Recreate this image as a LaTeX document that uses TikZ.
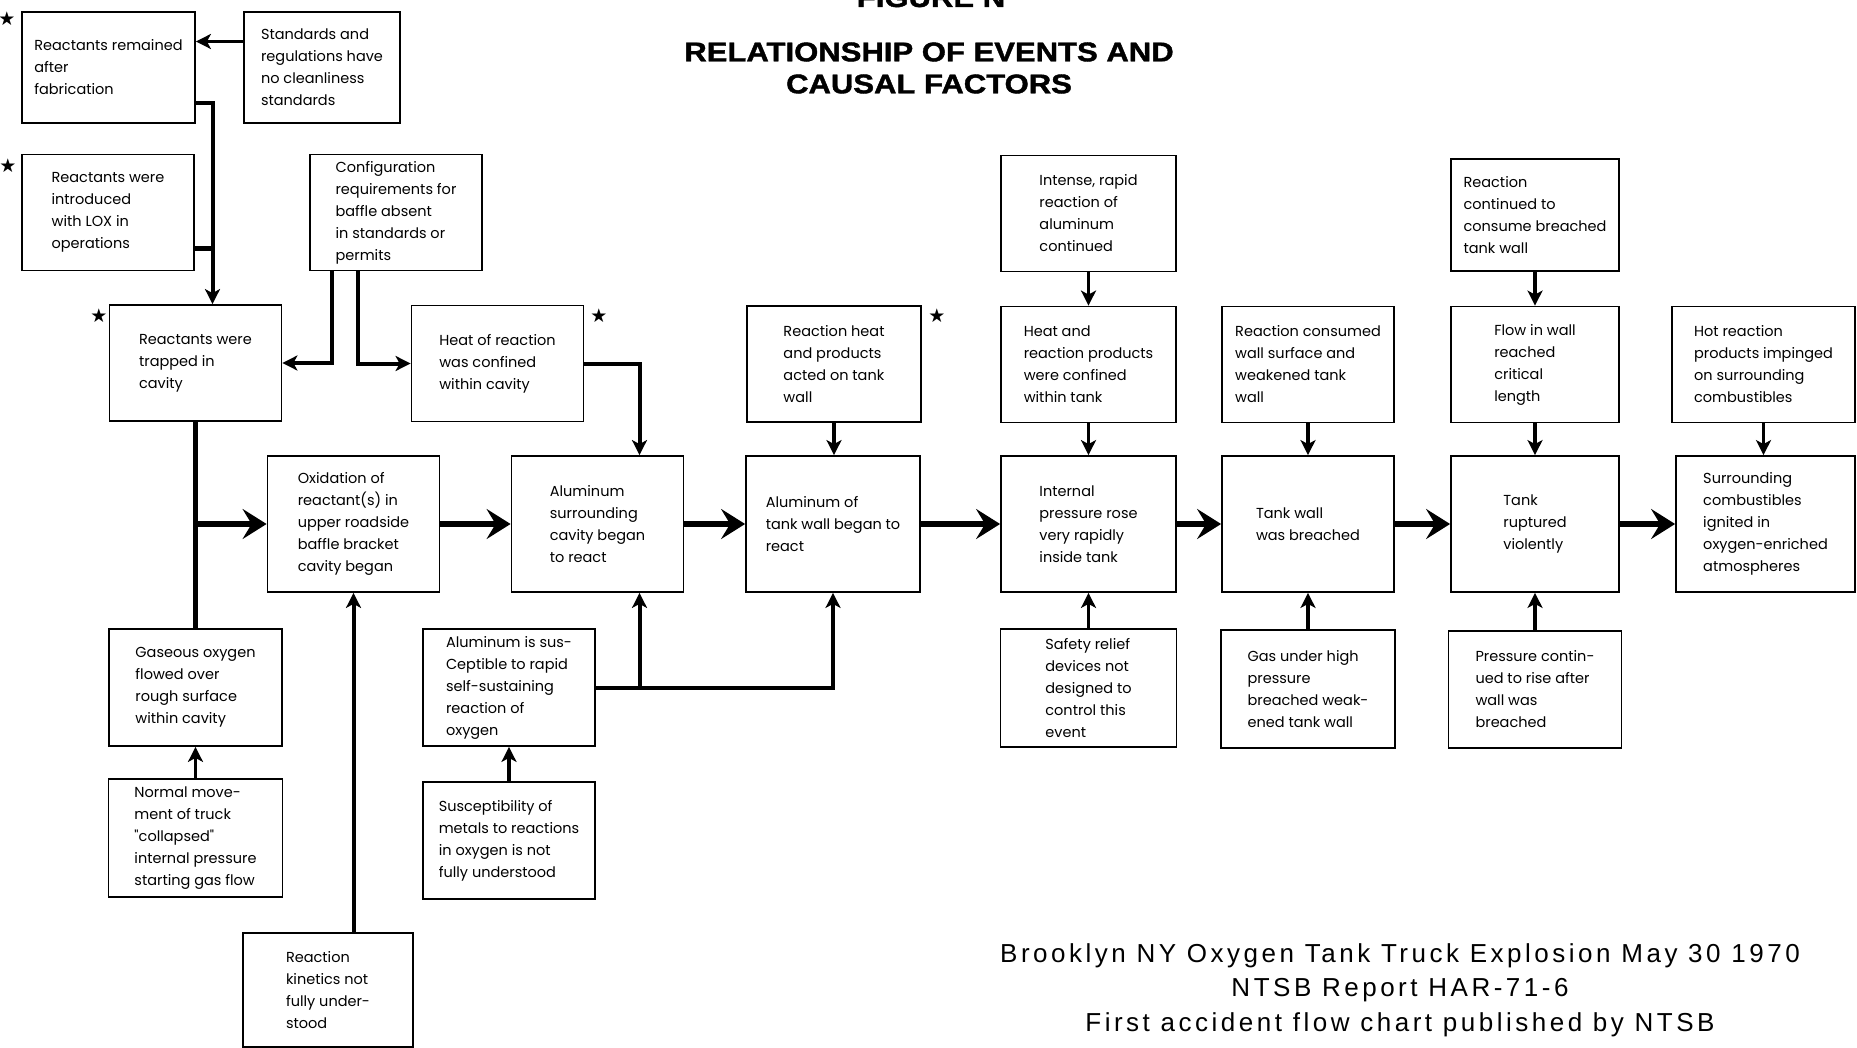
\documentclass[tikz,border=0pt]{standalone}
\usepackage{fontspec}
\usetikzlibrary{arrows.meta}
\newfontfamily\boxfont{Poppins}
\newfontfamily\titlefont[FakeStretch=1.15, FakeBold=1.5]{Liberation Sans}
\newfontfamily\capfont[LetterSpace=13.5]{Liberation Sans}
\newfontfamily\starfont{DejaVu Sans}

\begin{document}
\begin{tikzpicture}
    [
    x=1pt, y=-1pt,
    every node/.style={font=\boxfont\fontsize{14.5}{22}\selectfont},
    event/.style={rectangle, draw, line width=1.8pt, minimum width=172pt, minimum height=116pt, align=left, inner sep=2pt},
    tall/.style={event, minimum height=136pt},
    flow/.style={-{Stealth[length=15pt,width=15pt,inset=4pt]}, line width=4pt},
    bigflow/.style={-{Stealth[length=24pt,width=30pt,inset=9pt]}, line width=6pt},
    feed/.style={line width=4.5pt},
    starmark/.style={font=\starfont\fontsize{19}{19}\selectfont, inner sep=0pt}
    ]
    \useasboundingbox (0,0) rectangle (1857,1048);
    \clip (0,0) rectangle (1857,1048);

% Title
    \node[font=\titlefont\bfseries\fontsize{27}{32}\selectfont, anchor=base] (figure_no) at (931,7) {FIGURE N};
    \node[font=\titlefont\bfseries\fontsize{27}{32}\selectfont, align=center] (title) at (929,68) {RELATIONSHIP OF EVENTS AND\\CAUSAL FACTORS};

% Early causes
    \node[event, minimum width=173pt, minimum height=111pt] (remained) at (108.5,67.5) {Reactants remained\\after\\fabrication};
    \node[event, minimum width=156pt, minimum height=111pt] (standards) at (322,67.5) {Standards and\\regulations have\\no cleanliness\\standards};
    \node[event] (introduced) at (108,212.5) {Reactants were\\introduced\\with LOX in\\operations};
    \node[event] (config) at (396,212.5) {Configuration\\requirements for\\baffle absent\\in standards or\\permits};

% Upper row
    \node[event] (trapped) at (195.5,363) {Reactants were\\trapped in\\cavity};
    \node[event] (heat_cavity) at (497.5,363.5) {Heat of reaction\\was confined\\within cavity};
    \node[event, minimum width=174pt] (heat_wall) at (834,364) {Reaction heat\\and products\\acted on tank\\wall};
    \node[event, minimum width=175pt] (intense) at (1088.5,213.5) {Intense, rapid\\reaction of\\aluminum\\continued};
    \node[event, minimum width=175pt] (heat_tank) at (1088.5,364.5) {Heat and\\reaction products\\were confined\\within tank};
    \node[event] (consumed) at (1308,364.5) {Reaction consumed\\wall surface and\\weakened tank\\wall};
    \node[event, minimum width=168pt, minimum height=112pt] (continued) at (1535,215) {Reaction\\continued to\\consume breached\\tank wall};
    \node[event, minimum width=168pt] (flow_wall) at (1535,364.5) {Flow in wall\\reached\\critical\\length};
    \node[event, minimum width=183pt] (impinged) at (1763.5,364.5) {Hot reaction\\products impinged\\on surrounding\\combustibles};

% Main sequence
    \node[tall] (oxidation) at (353.5,524) {Oxidation of\\reactant(s) in\\upper roadside\\baffle bracket\\cavity began};
    \node[tall] (al_cavity) at (597.5,524) {Aluminum\\surrounding\\cavity began\\to react};
    \node[tall, minimum width=174pt] (al_wall) at (833,524) {Aluminum of\\tank wall began to\\react};
    \node[tall, minimum width=175pt] (pressure_rose) at (1088.5,524) {Internal\\pressure rose\\very rapidly\\inside tank};
    \node[tall] (breached) at (1308,524) {Tank wall\\was breached};
    \node[tall, minimum width=168pt] (ruptured) at (1535,524) {Tank\\ruptured\\violently};
    \node[tall, minimum width=179pt] (ignited) at (1765.5,524) {Surrounding\\combustibles\\ignited in\\oxygen-enriched\\atmospheres};

% Lower causes
    \node[event, minimum width=173pt, minimum height=117pt] (gas_flowed) at (195.5,687.5) {Gaseous oxygen\\flowed over\\rough surface\\within cavity};
    \node[event, minimum width=174pt, minimum height=118pt] (truck_move) at (195.5,838) {Normal move-\\ment of truck\\"collapsed"\\internal pressure\\starting gas flow};
    \node[event, minimum height=117pt] (al_suscept) at (509,687.5) {Aluminum is sus-\\Ceptible to rapid\\self-sustaining\\reaction of\\oxygen};
    \node[event, minimum height=117pt] (metals) at (509,840.5) {Susceptibility of\\metals to reactions\\in oxygen is not\\fully understood};
    \node[event, minimum width=170pt, minimum height=114pt] (kinetics) at (328,990) {Reaction\\kinetics not\\fully under-\\stood};
    \node[event, minimum width=176pt, minimum height=118pt] (relief) at (1088.5,688) {Safety relief\\devices not\\designed to\\control this\\event};
    \node[event, minimum width=174pt, minimum height=118pt] (gas_high) at (1308,689) {Gas under high\\pressure\\breached weak-\\ened tank wall};
    \node[event, minimum width=173pt, minimum height=117pt] (pressure_cont) at (1535,689.5) {Pressure contin-\\ued to rise after\\wall was\\breached};

% Stars
    \node[starmark] (star_remained) at (7,19) {★};
    \node[starmark] (star_introduced) at (8,166) {★};
    \node[starmark] (star_trapped) at (99,316) {★};
    \node[starmark] (star_heat_cavity) at (599,316) {★};
    \node[starmark] (star_heat_wall) at (937,316) {★};

% Feeds into trapped reactants
    \coordinate (trunk) at ([xshift=17pt]trapped.north);
    \draw[flow, line width=3pt] ([yshift=26pt]standards.west) -- ([yshift=26pt]remained.east);
    \draw[flow] ([yshift=-36pt]remained.east) -| (trunk);
    \draw[feed] ([yshift=-36pt]introduced.east) -- ([yshift=-36pt]introduced.east -| trunk);
    \draw[flow] ([xshift=23pt]config.south west) |- (trapped.east);
    \draw[flow] ([xshift=49pt]config.south west) |- (heat_cavity.west);
    \draw[flow] (heat_cavity.east) -| ([xshift=42pt]al_cavity.north);

% Main sequence arrows
    \draw[feed] (trapped.south) -- (gas_flowed.north);
    \draw[bigflow] (trapped.south |- oxidation.west) -- (oxidation.west);
    \draw[bigflow] (oxidation.east) -- (al_cavity.west);
    \draw[bigflow] (al_cavity.east) -- (al_wall.west);
    \draw[bigflow] (al_wall.east) -- (pressure_rose.west);
    \draw[bigflow] (pressure_rose.east) -- (breached.west);
    \draw[bigflow] (breached.east) -- (ruptured.west);
    \draw[bigflow] (ruptured.east) -- (ignited.west);

% Lower feeds
    \coordinate (al_join) at ([xshift=42pt]al_cavity.south |- al_suscept.east);
    \draw[flow] (oxidation.south |- kinetics.north) -- (oxidation.south);
    \draw[flow] (al_suscept.east) -| (al_wall.south);
    \draw[flow] (al_join) -- ([xshift=42pt]al_cavity.south);
    \draw[flow, line width=3.5pt] (truck_move.north) -- (gas_flowed.south);
    \draw[flow, line width=3.5pt] (metals.north) -- (al_suscept.south);

% Vertical arrows on the right
    \draw[flow, line width=3.5pt] (heat_wall.south) -- (heat_wall.south |- al_wall.north);
    \draw[flow, line width=3.5pt] (intense.south) -- (heat_tank.north);
    \draw[flow, line width=3.5pt] (heat_tank.south) -- (pressure_rose.north);
    \draw[flow, line width=3.5pt] (relief.north) -- (pressure_rose.south);
    \draw[flow, line width=3.5pt] (consumed.south) -- (breached.north);
    \draw[flow, line width=3.5pt] (gas_high.north) -- (breached.south);
    \draw[flow, line width=3.5pt] (continued.south) -- (flow_wall.north);
    \draw[flow, line width=3.5pt] (flow_wall.south) -- (ruptured.north);
    \draw[flow, line width=3.5pt] (pressure_cont.north) -- (ruptured.south);
    \draw[flow, line width=3.5pt] (impinged.south) -- (impinged.south |- ignited.north);

% Caption
    \node[font=\capfont\fontsize{26}{34.5}\selectfont, align=center] (caption) at (1400,990) {Brooklyn NY Oxygen Tank Truck Explosion May 30 1970\\NTSB Report HAR-71-6\\First accident flow chart published by NTSB};

\end{tikzpicture}
\end{document}
